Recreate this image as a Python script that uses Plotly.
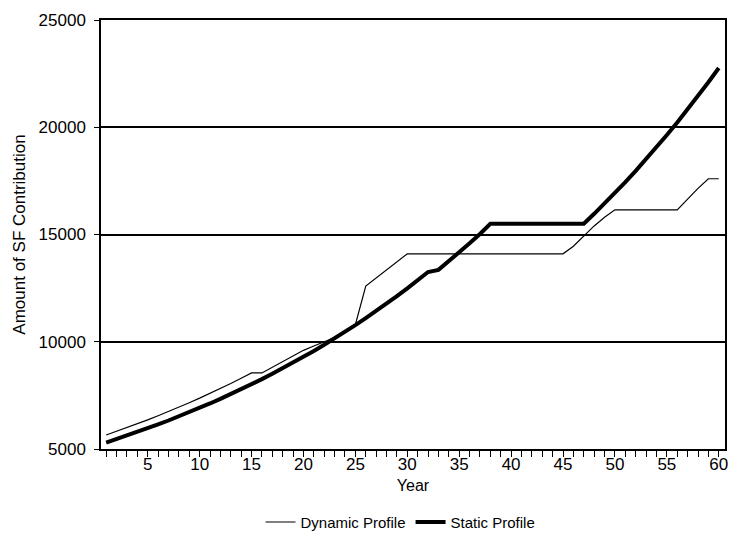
import plotly.graph_objects as go

years = list(range(1, 61))

dynamic_profile = [
    5650, 5820, 5994, 6174, 6359, 6550, 6746, 6949, 7157, 7372,
    7593, 7821, 8055, 8297, 8546, 8546, 8800, 9060, 9330, 9600,
    9800, 10000, 10200, 10450, 10800, 12600, 12975, 13350, 13725, 14100,
    14100, 14100, 14100, 14100, 14100, 14100, 14100, 14100, 14100, 14100,
    14100, 14100, 14100, 14100, 14100, 14450, 14950, 15400, 15800, 16150,
    16150, 16150, 16150, 16150, 16150, 16150, 16650, 17150, 17600, 17600,
]

static_profile = [
    5300, 5459, 5623, 5791, 5965, 6144, 6328, 6518, 6714, 6915,
    7123, 7336, 7557, 7783, 8017, 8257, 8505, 8760, 9023, 9294,
    9572, 9859, 10155, 10460, 10774, 11097, 11430, 11773, 12126, 12490,
    12864, 13250, 13350, 13750, 14163, 14588, 15025, 15500, 15500, 15500,
    15500, 15500, 15500, 15500, 15500, 15500, 15500, 15965, 16444, 16937,
    17445, 17969, 18508, 19063, 19635, 20224, 20831, 21455, 22099, 22762,
]

x_tick_vals = years
x_tick_text = [str(v) if v % 5 == 0 else "" for v in years]
y_tick_vals = [5000, 10000, 15000, 20000, 25000]
y_tick_text = ["5000", "10000", "15000", "20000", "25000"]

font_family = "Liberation Sans, Arial, sans-serif"

fig = go.Figure()
fig.add_trace(go.Scatter(
    x=years, y=dynamic_profile, mode="lines", name="Dynamic Profile",
    line=dict(color="black", width=1.2),
))
fig.add_trace(go.Scatter(
    x=years, y=static_profile, mode="lines", name="Static Profile",
    line=dict(color="black", width=4),
))

fig.update_layout(
    width=730, height=542,
    margin=dict(l=101, r=5, t=20, b=92),
    paper_bgcolor="white", plot_bgcolor="white",
    font=dict(family=font_family, color="black", size=15),
    showlegend=True,
    legend=dict(
        orientation="h", x=0.48, xanchor="center", y=-0.168, yanchor="middle",
        font=dict(size=15, family=font_family, color="black"),
        itemwidth=30, tracegroupgap=0,
    ),
    xaxis=dict(
        range=[0.5, 60.6], automargin=False,
        tickmode="array", tickvals=x_tick_vals, ticktext=x_tick_text,
        ticks="outside", ticklen=6, tickwidth=1.3, tickcolor="black",
        ticklabelstandoff=-7,
        showline=True, linecolor="black", linewidth=1.5, mirror=True,
        showgrid=False, zeroline=False,
        tickfont=dict(size=17, family=font_family, color="black"),
        title=dict(text="Year", font=dict(size=16, family=font_family), standoff=7),
    ),
    yaxis=dict(
        range=[5000, 25000], automargin=False,
        tickmode="array", tickvals=y_tick_vals, ticktext=y_tick_text,
        ticks="outside", ticklen=5, tickwidth=1.3, tickcolor="black",
        ticklabelstandoff=5,
        showline=True, linecolor="black", linewidth=1.5, mirror=True,
        showgrid=True, gridcolor="black", gridwidth=1.5, zeroline=False,
        tickfont=dict(size=17, family=font_family, color="black"),
        title=dict(text="Amount of SF Contribution", font=dict(size=17, family=font_family), standoff=9),
    ),
)

fig.write_html(
    "out.html",
    config={"displayModeBar": False},
    post_script="document.body.style.margin='0';",
)
